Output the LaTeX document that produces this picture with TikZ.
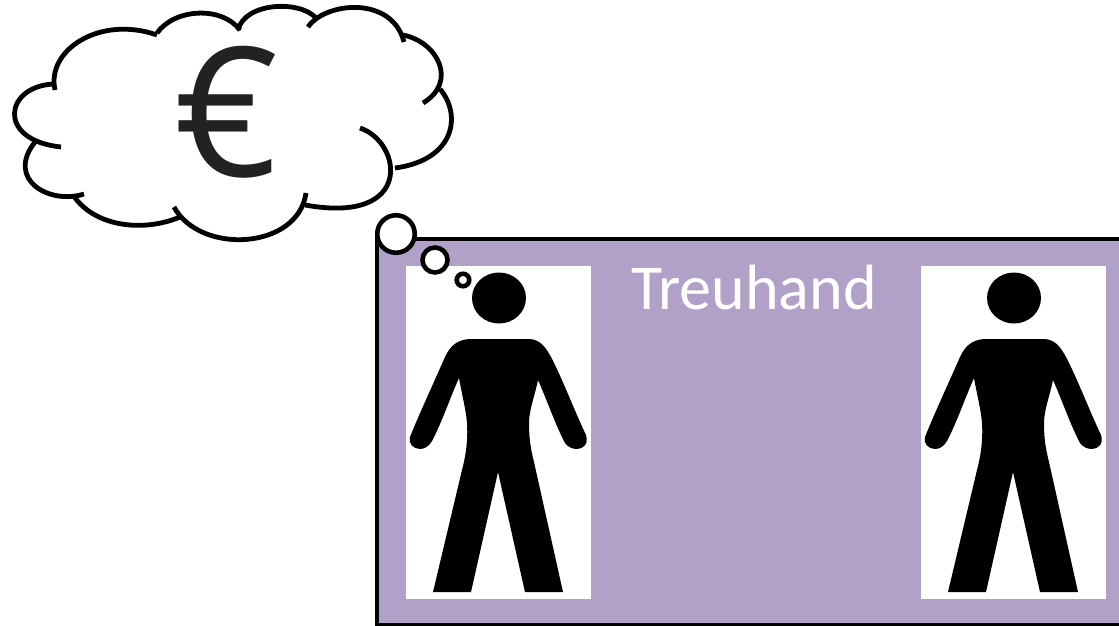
\documentclass[tikz,border=0pt]{standalone}
\usepackage{fontspec}
\setmainfont{Carlito}
\newfontfamily\eurofont{Open Sans}
\usepackage{xcolor}
\definecolor{panelpurple}{RGB}{177,160,199}
\definecolor{eurogray}{RGB}{34,34,34}
\newcommand{\personfig}[1]{%
  \begin{scope}[shift={(#1,0)}]
    % Head
    \fill[black] (499,298) ellipse (27 and 25.5);
    % Body
    \fill[black] (469,339) -- (530,339)
      .. controls (541,340) and (546,348) .. (551,357)
      .. controls (562,378) and (575,412) .. (586,435)
      .. controls (589,444) and (583,449) .. (577,449)
      .. controls (572,449) and (568,447) .. (565,443)
      .. controls (555,424) and (547,400) .. (538,380)
      .. controls (535,395) and (529,410) .. (529,423)
      .. controls (529,440) and (531,450) .. (534,462)
      -- (563,592) -- (525,592) -- (498,472) -- (471,592) -- (433,592)
      -- (462,470)
      .. controls (466,455) and (468,440) .. (467,423)
      .. controls (466,410) and (462,395) .. (459,378)
      .. controls (450,398) and (442,422) .. (432,441)
      .. controls (429,446) and (425,449) .. (420,449)
      .. controls (413,449) and (408,443) .. (410,437)
      .. controls (420,412) and (435,380) .. (445,357)
      .. controls (450,346) and (457,340) .. (469,339) -- cycle;
  \end{scope}}

\begin{document}
\begin{tikzpicture}[x=1pt,y=-1pt]
    \useasboundingbox (0,0) rectangle (1119,626);
    % Panel
    \node[fill=panelpurple, minimum width=742pt, minimum height=386pt, inner sep=0pt, outer sep=0pt, anchor=north west] (panel) at (377,239) {};
    \draw[line width=3.2pt] (panel.north east) -- (panel.north west) -- (panel.south west) -- (panel.south east);
    % Persons
    \node[fill=white, minimum width=185pt, minimum height=333pt, inner sep=0pt, anchor=north west] (leftbox) at (406,266) {};
    \node[fill=white, minimum width=185pt, minimum height=333pt, inner sep=0pt, anchor=north west] (rightbox) at (921,266) {};
    \personfig{0}
    \personfig{515}
    \node[white, font=\fontsize{64}{64}\selectfont, inner sep=0pt] (treuhand) at (754,288) {Treuhand};
    % Cloud
    \begin{scope}[line width=4.8pt, black]
      \draw (55,90) .. controls (46,50) and (100,15) .. (157,35);
      \draw (157,33) .. controls (175,8) and (222,6) .. (240,30);
      \draw (238,30) .. controls (245,2) and (300,0) .. (316,18);
      \draw (308,27) .. controls (325,2) and (392,-5) .. (404,42);
      \draw (403,35) .. controls (438,42) and (458,82) .. (423,103);
      \draw (440,89) .. controls (462,115) and (455,160) .. (395,168);
      \draw (360,128) .. controls (402,142) and (415,225) .. (305,205);
      \draw (306,193) .. controls (298,250) and (200,255) .. (174,207);
      \draw (180,217) .. controls (145,232) and (95,228) .. (73,195);
      \draw (84,194) .. controls (50,205) and (5,180) .. (35,142);
      \draw (61,147) .. controls (-5,140) and (5,85) .. (55,84);
    \end{scope}
    \node[eurogray, font=\eurofont\fontsize{180}{180}\selectfont, inner sep=0pt] (euro) at (227,112) {€};
    % Thought bubbles
    \node[circle, draw, fill=white, line width=4.6pt, minimum size=37.5pt, inner sep=0pt] (bubblea) at (396,234) {};
    \node[circle, draw, fill=white, line width=4.6pt, minimum size=25pt, inner sep=0pt] (bubbleb) at (435,260) {};
    \node[circle, draw, fill=white, line width=4.6pt, minimum size=12.5pt, inner sep=0pt] (bubblec) at (463,280) {};
\end{tikzpicture}
\end{document}
